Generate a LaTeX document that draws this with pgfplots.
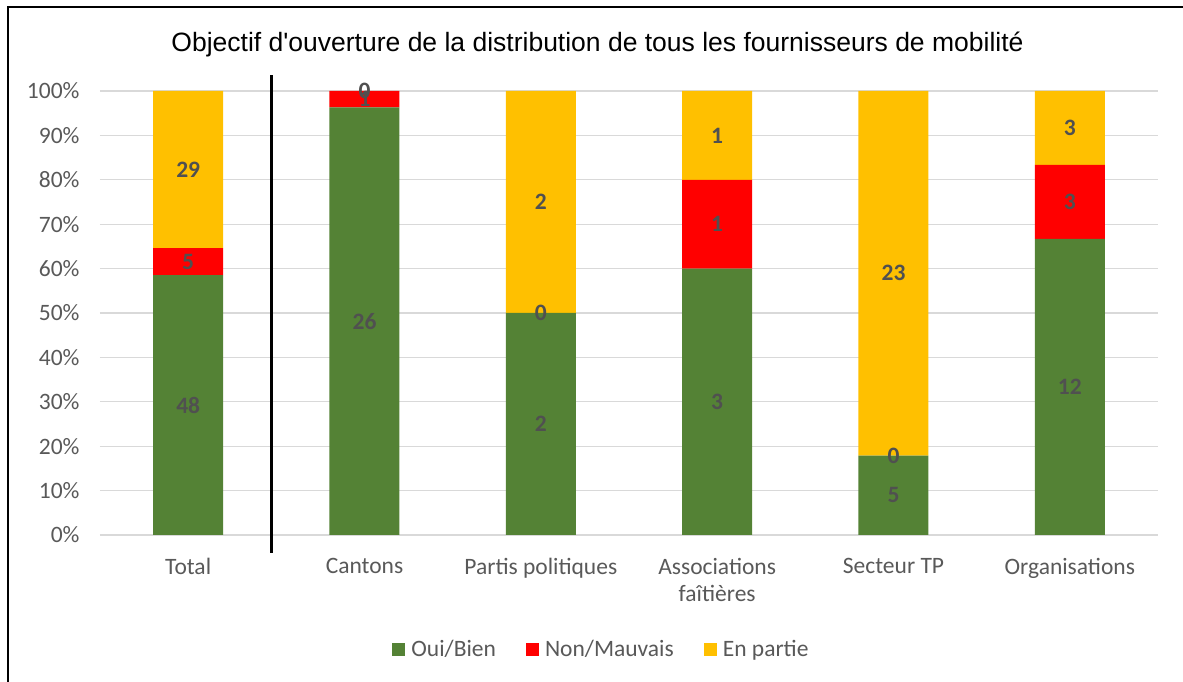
\documentclass[border=0pt]{standalone}
\usepackage{pgfplots}
\pgfplotsset{compat=1.18}
\usepackage{pgfplotstable}
\usepackage{fontspec}
\setmainfont{Carlito}
\newfontfamily\titlefont{Liberation Sans}
\definecolor{cgreen}{HTML}{548235}
\definecolor{cred}{HTML}{FF0000}
\definecolor{cyellow}{HTML}{FFC000}
\definecolor{cgrid}{HTML}{D9D9D9}
\definecolor{ctext}{HTML}{595959}
\definecolor{clabel}{HTML}{505050}

% shares (%) of each answer per group
\pgfplotstableread{
x green red yellow
0 58.537 6.098 35.366
1 96.296 3.704 0
2 50 0 50
3 60 20 20
4 17.857 0 82.143
5 66.667 16.667 16.667
}\shares

% counts, placed at the middle of each segment
\pgfplotstableread{
x y lab
0 29.27 48
0 61.59 5
0 82.32 29
1 48.15 26
1 98.15 1
1 100 0
2 25 2
2 50 0
2 75 2
3 30 3
3 70 1
3 90 1
4 8.93 5
4 17.86 0
4 58.93 23
5 33.33 12
5 75 3
5 91.67 3
}\labels

\newcommand\lblfont{\fontsize{23.5}{27}\selectfont}

\begin{document}
\begin{tikzpicture}
\path[use as bounding box] (0pt,0pt) rectangle (1183pt,682pt);
\draw[line width=1.4pt, black] (1183pt,675pt) -- (8pt,675pt) -- (8pt,0pt);
\node[font=\titlefont\fontsize{26.5}{30}\selectfont, anchor=center] at (597.5pt,637pt) {Objectif d'ouverture de la distribution de tous les fournisseurs de mobilité};
\begin{axis}[
  at={(100pt,147pt)}, anchor=south west,
  scale only axis, width=1058pt, height=444pt,
  xmin=-0.5, xmax=5.5, ymin=0, ymax=100,
  ybar stacked, bar width=70pt,
  axis line style={draw=none},
  major tick length=0pt,
  ytick={0,10,...,100},
  yticklabels={0\%,10\%,20\%,30\%,40\%,50\%,60\%,70\%,80\%,90\%,100\%},
  xtick={0,...,5},
  xticklabels={Total,Cantons,Partis politiques,{Associations\\faîtières},Secteur TP,Organisations},
  xticklabel style={align=center, font=\lblfont, text=ctext, yshift=-20pt},
  yticklabel style={font=\lblfont, text=ctext, xshift=-17pt},
  ymajorgrids, grid style={cgrid, line width=1.3pt},
  clip=false,
  legend columns=3,
  legend style={at={(0.474,-0.257)}, anchor=center, draw=none, font=\lblfont, text=ctext,
    /tikz/every odd column/.append style={column sep=4pt},
    /tikz/every even column/.append style={column sep=28pt}},
  legend image code/.code={\fill[#1] (0pt,-6.5pt) rectangle (13pt,6.5pt);},
]
\addplot[fill=cgreen, draw=none] table[x=x, y=green]{\shares};
\addplot[fill=cred, draw=none] table[x=x, y=red]{\shares};
\addplot[fill=cyellow, draw=none] table[x=x, y=yellow]{\shares};
\legend{Oui/Bien,Non/Mauvais,En partie}
\draw[black, line width=2.2pt] (axis cs:0.473,-4.05) -- (axis cs:0.473,103.6);
\end{axis}
\begin{axis}[
  at={(100pt,147pt)}, anchor=south west,
  scale only axis, width=1058pt, height=444pt,
  xmin=-0.5, xmax=5.5, ymin=0, ymax=100,
  hide axis, clip=false,
]
\addplot[draw=none, nodes near coords, point meta=explicit symbolic,
  every node near coord/.append style={anchor=center, font=\lblfont\bfseries, text=clabel}]
  table[x=x, y=y, meta=lab]{\labels};
\end{axis}
\end{tikzpicture}
\end{document}
